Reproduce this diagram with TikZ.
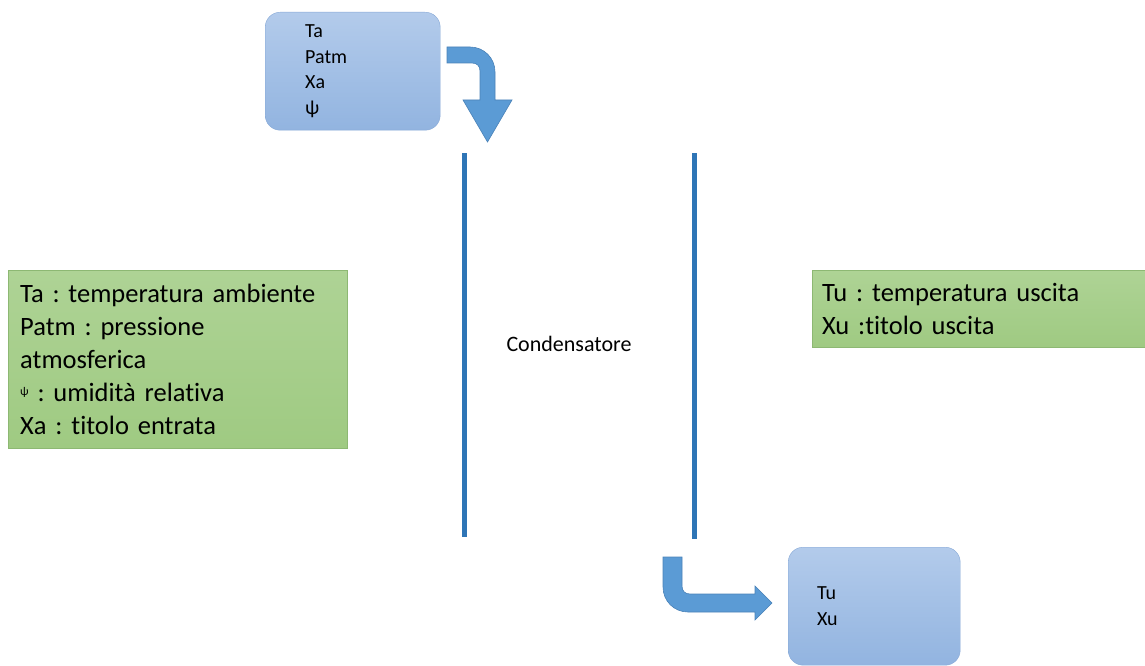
\documentclass[tikz,border=0pt]{standalone}
\usepackage{fontspec}
\setmainfont[Ligatures=NoCommon]{Carlito}
\usepackage{tikz}
\usetikzlibrary{positioning}
\frenchspacing
\definecolor{blueTop}{HTML}{B3CBEB}
\definecolor{blueBot}{HTML}{92B4E0}
\definecolor{blueLine}{HTML}{86A8D6}
\definecolor{greenTop}{HTML}{AED395}
\definecolor{greenBot}{HTML}{9FCA82}
\definecolor{greenLine}{HTML}{8DB873}
\definecolor{arrowFill}{HTML}{5B9BD5}
\definecolor{arrowLine}{HTML}{4A82B8}
\definecolor{wallBlue}{HTML}{2E75B6}
\tikzstyle{databox} = [rectangle, rounded corners=15pt, top color=blueTop, bottom color=blueBot, draw=blueLine, align=left, anchor=north west, font=\fontsize{20}{25.5}\selectfont]
\tikzstyle{legend} = [rectangle, top color=greenTop, bottom color=greenBot, draw=greenLine, align=left, anchor=north west, font=\fontsize{26.5}{33}\selectfont]
\tikzstyle{wall} = [line width=5pt, draw=wallBlue]
\tikzstyle{bentarrow} = [fill=arrowFill, draw=arrowLine, line width=0.6pt, line join=miter]

\begin{document}
\begin{tikzpicture}[x=1pt,y=-1pt]
\useasboundingbox (0,0) rectangle (1145,666);
%riquadri dei dati
\node[databox, minimum width=175pt, minimum height=118pt, text width=95pt, inner xsep=40pt](in) at (265,12){Ta\\Patm\\Xa\\ψ};
\node[databox, minimum width=172pt, minimum height=118pt, text width=114pt, inner xsep=29pt](out) at (788,547){Tu\\Xu};
%legende
\node[legend, minimum width=339pt, minimum height=178pt, text width=315pt, inner xsep=12pt](legin) at (8,270){Ta : temperatura ambiente\\Patm : pressione\\atmosferica\\{\fontsize{12}{12}\selectfont\raisebox{6pt}{ψ}} : umidità relativa\\Xa : titolo entrata};
\node[legend, minimum width=345pt, minimum height=77pt, text width=325pt, inner xsep=10pt](legout) at (812,270){Tu : temperatura uscita\\Xu :titolo uscita};
%condensatore
\node[font=\fontsize{22}{24}\selectfont, anchor=base](cond) at (569,351){Condensatore};
\draw[wall] (464.5,153) -- (464.5,537);
\draw[wall] (694,153) -- (694,539);
%frecce
\draw[bentarrow] (447,47) -- (470,47) .. controls (484,47) and (495,58) .. (495,72) -- (495,100) -- (512,100) -- (487.5,142) -- (463,100) -- (480,100) -- (480,71) .. controls (480,66) and (477,63) .. (472,63) -- (447,63) -- cycle;
\draw[bentarrow] (663,557) -- (682,557) -- (682,586) .. controls (682,591) and (685,594) .. (690,594) -- (755,594) -- (755,586) -- (772,603) -- (755,620) -- (755,612) -- (688,612) .. controls (674,612) and (663,601) .. (663,587) -- cycle;
\end{tikzpicture}
\end{document}
